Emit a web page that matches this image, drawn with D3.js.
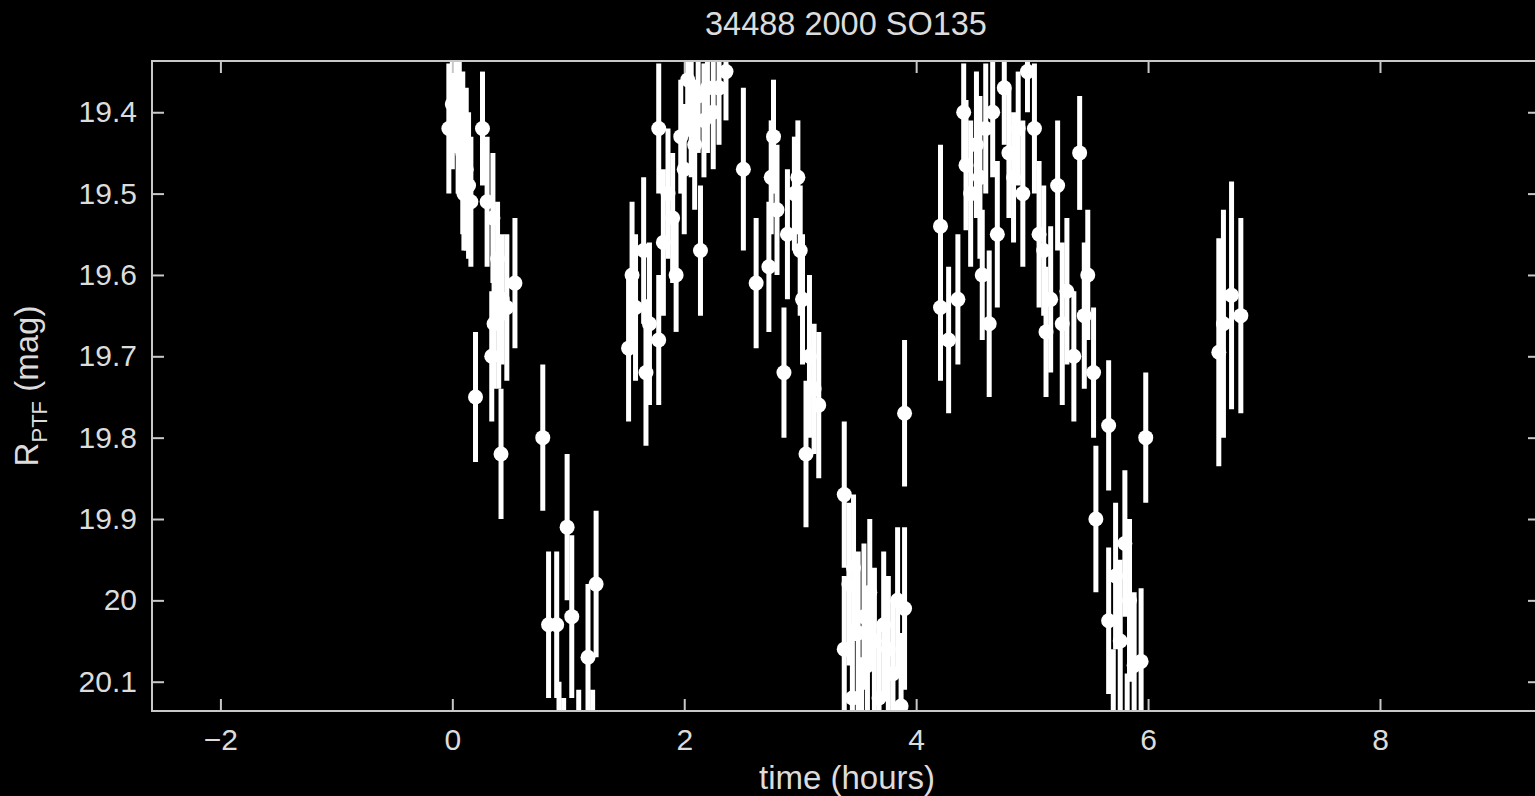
<!DOCTYPE html>
<html>
<head>
<meta charset="utf-8">
<script src="https://cdn.jsdelivr.net/npm/d3@7"></script>
<style>
  html, body { margin: 0; padding: 0; background: #000; }
  svg { display: block; }
  text { font-family: "Liberation Sans", Arial, sans-serif; fill: #dcdcdc; }
</style>
</head>
<body>
<script>
// light curve: time (hours), R_PTF magnitude, 1-sigma error
const time = [
  0.00, -0.03, 0.01, 0.03, 0.06, 0.09, 0.12, 0.16, 0.14, 0.26, 0.30, 0.35, 0.39, 0.43, 0.47, 0.54,
  0.36, 0.40, 0.34, 0.20, 0.42, 0.10, 0.05,
  0.78, 0.83, 0.90, 0.99, 1.03, 1.17, 1.24, 0.92, 0.96, 1.09, 1.21,
  1.52, 1.55, 1.58, 1.65, 1.70, 1.67, 1.78, 1.78, 1.82, 1.86, 1.90, 1.97, 2.00, 2.03, 2.06, 2.09,
  2.14, 2.17, 2.20, 2.25, 2.30, 2.36, 1.93, 2.12,
  2.51, 2.62, 2.73, 2.75, 2.77, 2.80, 2.86, 2.89, 2.95, 2.98, 3.00, 3.02, 3.05, 3.08, 3.16, 3.12,
  3.38, 3.38, 3.42, 3.46, 3.50, 3.55, 3.58, 3.60, 3.64, 3.68, 3.72, 3.76, 3.80, 3.84, 3.87, 3.90,
  3.90, 3.45, 3.53,
  4.21, 4.21, 4.28, 4.36, 4.41, 4.43, 4.47, 4.52, 4.55, 4.60, 4.63, 4.66, 4.70, 4.76, 4.80, 4.84,
  4.88, 4.92, 4.96, 5.02, 5.06, 5.10, 5.12, 5.16, 5.22, 5.26, 5.30, 5.36, 5.41, 5.45, 5.48, 5.53,
  4.57,
  5.55, 5.66, 5.66, 5.72, 5.76, 5.80, 5.84, 5.88, 5.94, 5.98, 5.70, 5.82,
  6.61, 6.65, 6.72, 6.80
];
const mag = [
  19.39, 19.42, 19.33, 19.36, 19.41, 19.45, 19.47, 19.51, 19.49, 19.42, 19.51, 19.53, 19.58, 19.63, 19.64, 19.61,
  19.66, 19.65, 19.70, 19.75, 19.82, 19.50, 19.44,
  19.80, 20.03, 20.03, 19.91, 20.02, 20.07, 19.98, 20.19, 20.21, 20.20, 20.20,
  19.69, 19.60, 19.64, 19.57, 19.66, 19.72, 19.68, 19.42, 19.56, 19.50, 19.53, 19.43, 19.47, 19.36, 19.40, 19.44,
  19.57, 19.41, 19.37, 19.40, 19.37, 19.35, 19.60, 19.38,
  19.47, 19.61, 19.59, 19.48, 19.43, 19.52, 19.72, 19.55, 19.50, 19.48, 19.57, 19.63, 19.82, 19.70, 19.76, 19.74,
  19.87, 20.06, 19.98, 19.96, 20.04, 20.02, 20.08, 19.99, 20.05, 20.12, 20.03, 20.06, 20.09, 20.00, 20.13, 20.01,
  19.77, 20.12, 20.16,
  19.54, 19.64, 19.68, 19.63, 19.40, 19.465, 19.50, 19.44, 19.48, 19.42, 19.66, 19.40, 19.55, 19.37, 19.45, 19.48,
  19.42, 19.50, 19.35, 19.42, 19.55, 19.57, 19.67, 19.63, 19.49, 19.66, 19.62, 19.70, 19.45, 19.65, 19.60, 19.72,
  19.60,
  19.90, 19.785, 20.025, 19.97, 20.05, 19.93, 20.00, 20.08, 20.075, 19.80, 20.15, 20.18,
  19.695, 19.66, 19.625, 19.65
];
const err = [
  0.08, 0.08, 0.09, 0.09, 0.09, 0.10, 0.10, 0.08, 0.09, 0.07, 0.08, 0.08, 0.07, 0.08, 0.09, 0.08,
  0.08, 0.09, 0.08, 0.08, 0.08, 0.07, 0.06,
  0.09, 0.09, 0.09, 0.09, 0.10, 0.09, 0.09, 0.09, 0.09, 0.09, 0.09,
  0.09, 0.09, 0.09, 0.09, 0.10, 0.09, 0.08, 0.08, 0.09, 0.08, 0.08, 0.07, 0.08, 0.07, 0.08, 0.08,
  0.08, 0.07, 0.08, 0.07, 0.07, 0.06, 0.07, 0.07,
  0.10, 0.08, 0.08, 0.07, 0.07, 0.08, 0.08, 0.08, 0.07, 0.07, 0.08, 0.08, 0.09, 0.10, 0.09, 0.08,
  0.09, 0.09, 0.10, 0.09, 0.10, 0.09, 0.09, 0.09, 0.09, 0.09, 0.09, 0.09, 0.09, 0.09, 0.09, 0.10,
  0.09, 0.09, 0.09,
  0.10, 0.09, 0.09, 0.08, 0.06, 0.08, 0.09, 0.09, 0.10, 0.08, 0.09, 0.08, 0.09, 0.07, 0.08, 0.08,
  0.07, 0.09, 0.05, 0.08, 0.09, 0.08, 0.08, 0.09, 0.08, 0.10, 0.09, 0.08, 0.07, 0.09, 0.08, 0.08,
  0.08,
  0.09, 0.08, 0.09, 0.09, 0.10, 0.09, 0.10, 0.09, 0.09, 0.08, 0.09, 0.09,
  0.14, 0.14, 0.14, 0.12
];
const xTicks = [-2, 0, 2, 4, 6, 8];
const yTicks = [19.4, 19.5, 19.6, 19.7, 19.8, 19.9, 20.0, 20.1];
const title = "34488 2000 SO135";

const data = time.map((t, i) => ({ t: t, m: mag[i], e: err[i] }));

const W = 1535, H = 796;
const margin = { top: 61, right: -5, bottom: 85, left: 152 };
const width = W - margin.left - margin.right;
const height = H - margin.top - margin.bottom;

const svg = d3.select("body").append("svg")
    .attr("width", W)
    .attr("height", H);

const g = svg.append("g")
    .attr("transform", `translate(${margin.left}, ${margin.top})`);

const x = d3.scaleLinear().domain([-2.59, 9.38]).range([0, width]);
const y = d3.scaleLinear().domain([19.337, 20.136]).range([0, height]);

g.append("clipPath").attr("id", "plot")
    .append("rect").attr("width", width).attr("height", height);

const marks = g.append("g").attr("clip-path", "url(#plot)");

// error bars
marks.selectAll("line.err")
    .data(data)
    .enter()
    .append("line")
    .attr("class", "err")
    .attr("x1", d => x(d.t))
    .attr("x2", d => x(d.t))
    .attr("y1", d => y(d.m - d.e))
    .attr("y2", d => y(d.m + d.e))
    .attr("stroke", "#fff")
    .attr("stroke-width", 5);

marks.selectAll("circle")
    .data(data)
    .enter()
    .append("circle")
    .attr("cx", d => x(d.t))
    .attr("cy", d => y(d.m))
    .attr("r", 7.5)
    .attr("fill", "#fff");

// axes with inward ticks on all four sides
const axisColor = "#c8c8c8";
const styleAxis = sel => {
    sel.selectAll(".domain").remove();
    sel.selectAll(".tick line").attr("stroke", axisColor).attr("stroke-width", 2);
    sel.selectAll("text").style("font-size", "30px").attr("fill", "#dcdcdc");
};

g.append("g")
    .attr("transform", `translate(0, ${height})`)
    .call(d3.axisBottom(x).tickValues(xTicks).tickSizeInner(-12).tickPadding(18)
        .tickFormat(d => d < 0 ? "\u2212" + Math.abs(d) : d))
    .call(styleAxis);

g.append("g")
    .call(d3.axisTop(x).tickValues(xTicks).tickSizeInner(-12).tickFormat(""))
    .call(styleAxis);

g.append("g")
    .call(d3.axisLeft(y).tickValues(yTicks).tickSizeInner(-12).tickPadding(15)
        .tickFormat(d => d3.format("")(+d.toFixed(1))))
    .call(styleAxis);

g.append("g")
    .attr("transform", `translate(${width}, 0)`)
    .call(d3.axisRight(y).tickValues(yTicks).tickSizeInner(-12).tickFormat(""))
    .call(styleAxis);

// frame
g.append("rect")
    .attr("width", width)
    .attr("height", height)
    .attr("fill", "none")
    .attr("stroke", axisColor)
    .attr("stroke-width", 2);

// title and axis labels
svg.append("text")
    .attr("x", 846)
    .attr("y", 35)
    .attr("text-anchor", "middle")
    .style("font-size", "32.5px")
    .text(title);

svg.append("text")
    .attr("x", 847)
    .attr("y", 789)
    .attr("text-anchor", "middle")
    .style("font-size", "33px")
    .text("time (hours)");

const ylab = svg.append("text")
    .attr("transform", `translate(38, ${margin.top + height / 2}) rotate(-90)`)
    .attr("text-anchor", "middle")
    .style("font-size", "33px");
ylab.append("tspan").text("R");
ylab.append("tspan").attr("dy", 9).style("font-size", "22px").text("PTF");
ylab.append("tspan").attr("dy", -9).text(" (mag)");
</script>
</body>
</html>
